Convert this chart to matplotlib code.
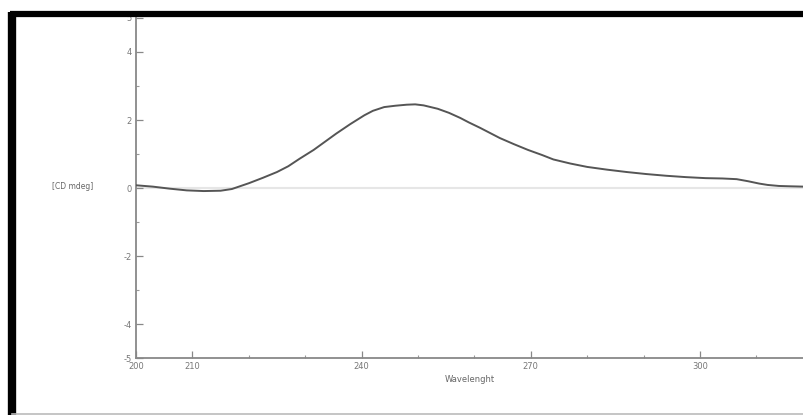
import matplotlib
matplotlib.use("Agg")
import matplotlib.pyplot as plt
from matplotlib.lines import Line2D
import numpy as np

# Data
wavelength = [200, 203, 206, 209, 212, 215, 217, 220, 222.5, 225, 227, 229, 231.5, 233.5,
              235.5, 238, 240.5, 242, 244, 246, 248, 249.5, 251, 253.5, 255.5, 257.5, 259,
              261, 264.5, 267, 269.5, 272, 274, 277, 280, 283.5, 287, 290.5, 294, 297.5,
              301, 304, 306.5, 308.5, 310.5, 312, 314, 316, 318.5]
cd_mdeg = [0.08, 0.04, -0.02, -0.07, -0.09, -0.08, -0.03, 0.14, 0.30, 0.47, 0.64, 0.86, 1.12, 1.36,
           1.60, 1.88, 2.14, 2.27, 2.38, 2.42, 2.45, 2.46, 2.43, 2.33, 2.21, 2.06, 1.93,
           1.77, 1.47, 1.29, 1.12, 0.97, 0.84, 0.72, 0.62, 0.54, 0.47, 0.41, 0.36, 0.32,
           0.29, 0.28, 0.26, 0.20, 0.13, 0.09, 0.06, 0.05, 0.04]

xtick_major = [200, 210, 240, 270, 300]
xtick_minor = [220, 230, 250, 260, 280, 290, 310]
ytick_major = [-5, -4, -2, 0, 2, 4, 5]
ytick_minor = [-3, -1, 1, 3]

W, H = 804, 415
fig = plt.figure(figsize=(W / 100, H / 100), dpi=100)
fig.patch.set_facecolor("white")

x0, x1 = 136, 804
y_top, y_bot = 18, 358
ax = fig.add_axes([x0 / W, 1 - y_bot / H, (x1 - x0) / W, (y_bot - y_top) / H])
ax.set_xlim(200, 200 + (x1 - x0) / 5.64)
ax.set_ylim(-5, 5)

for s in ["top", "right"]:
    ax.spines[s].set_visible(False)
for s in ["left", "bottom"]:
    ax.spines[s].set_color("#888888")
    ax.spines[s].set_linewidth(1.3)

ax.axhline(0, color="#e6e6e6", lw=1.5, zorder=1)
ax.plot(wavelength, cd_mdeg, color="#555555", lw=1.4, zorder=3)

ax.set_xticks(xtick_major)
ax.set_xticks(xtick_minor, minor=True)
ax.set_yticks(ytick_major)
ax.set_yticks(ytick_minor, minor=True)
ax.set_yticklabels([str(v) for v in ytick_major])
ax.tick_params(axis="both", which="major", direction="in", length=5, width=0.9,
               color="#888888", labelsize=6, labelcolor="#777777", pad=3)
ax.tick_params(axis="both", which="minor", direction="in", length=2.5, width=0.8,
               color="#999999")

ax.set_xlabel("Wavelenght", fontsize=6, color="#666666", labelpad=3)
ax.text(73 / W, 1 - 186 / H, "[CD mdeg]", transform=fig.transFigure, fontsize=5.5,
        color="#666666", ha="center", va="center")

# frame lines
fig.add_artist(Line2D([10 / W, 1], [1 - 14 / H, 1 - 14 / H], transform=fig.transFigure,
                      color="black", lw=4.5, solid_capstyle="butt"))
fig.add_artist(Line2D([12.5 / W, 12.5 / W], [1 - 12 / H, 0], transform=fig.transFigure,
                      color="black", lw=6, solid_capstyle="butt"))
fig.add_artist(Line2D([12 / W, 1], [1 - 413.5 / H, 1 - 413.5 / H], transform=fig.transFigure,
                      color="#bbbbbb", lw=1.2))

fig.savefig("out.png", dpi=100)
